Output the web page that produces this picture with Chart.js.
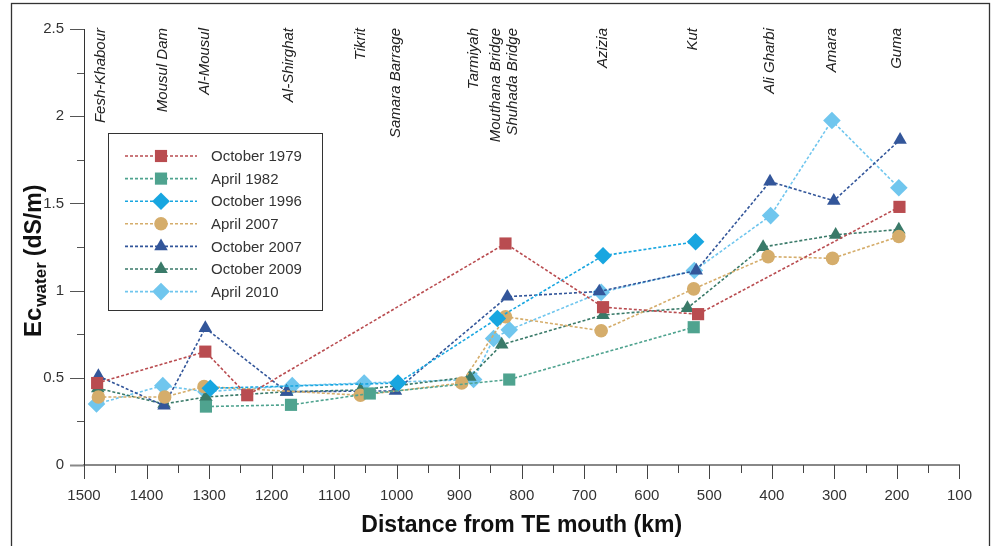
<!DOCTYPE html>
<html><head><meta charset="utf-8">
<script src="https://cdn.jsdelivr.net/npm/chart.js@4.4.1/dist/chart.umd.min.js"></script>
<style>html,body{margin:0;padding:0;background:#fff;}canvas{display:block;}</style>
</head><body>
<canvas id="c" width="994" height="546"></canvas>
<script>
// ---- data ----
const xTicks = [1500,1400,1300,1200,1100,1000,900,800,700,600,500,400,300,200,100];
const yTicks = [0,0.5,1,1.5,2,2.5];
const stationNames = ["Fesh-Khabour","Mousul Dam","Al-Mousul","Al-Shirghat","Tikrit","Samara Barrage","Tarmiyah","Mouthana Bridge","Shuhada Bridge","Azizia","Kut","Ali Gharbi","Amara","Guma"];
const stationKm = [1473,1374,1306,1172,1057,1002,877,841,814,670,527,404,304,200];

const seriesNames = ["October 1979","April 1982","October 1996","April 2007","October 2007","October 2009","April 2010"];

const oct1979Km = [1479,1306,1239,826,670,518,196];
const oct1979Ec = [0.47,0.65,0.40,1.27,0.905,0.865,1.48];

const apr1982Km = [1305,1169,1043,820,525];
const apr1982Ec = [0.335,0.345,0.41,0.49,0.79];

const oct1996Km = [1298,998,839,670,522];
const oct1996Ec = [0.44,0.47,0.84,1.20,1.28];

const apr2007Km = [1477,1371,1308,1058,896,826,673,525,406,303,197];
const apr2007Ec = [0.39,0.39,0.45,0.40,0.47,0.85,0.77,1.01,1.195,1.185,1.31];

const oct2007Km = [1477,1372,1306,1176,1002,823,676,521,403,301,195];
const oct2007Ec = [0.51,0.34,0.785,0.42,0.425,0.965,0.995,1.115,1.625,1.515,1.865];

const oct2009Km = [1478,1372,1305,1176,1058,883,832,670,535,414,298,197];
const oct2009Ec = [0.44,0.35,0.39,0.42,0.43,0.505,0.69,0.86,0.90,1.25,1.32,1.35];

const apr2010Km = [1480,1374,1305,1167,1052,877,845,820,673,524,402,304,197];
const apr2010Ec = [0.35,0.455,0.42,0.455,0.47,0.49,0.725,0.775,0.99,1.115,1.43,1.975,1.59];

// ---- styles ----
const colors = ["#B94C50","#4FA38F","#18A6E0","#D5AD6B","#33569A","#3A7A69","#70C6EE"];
const styles = ["rect","rect","rectRot","circle","triangle","triangle","rectRot"];
const radii = [8.6,8.6,8.8,6.8,7.8,7.8,8.8];

const kmSets = [oct1979Km,apr1982Km,oct1996Km,apr2007Km,oct2007Km,oct2009Km,apr2010Km];
const ecSets = [oct1979Ec,apr1982Ec,oct1996Ec,apr2007Ec,oct2007Ec,oct2009Ec,apr2010Ec];

const FONT = '"Liberation Sans", Arial, Helvetica, sans-serif';

const datasets = seriesNames.map((name,i)=>({
  label: name,
  data: kmSets[i].map((k,j)=>({x:k,y:ecSets[i][j]})),
  borderColor: colors[i],
  backgroundColor: colors[i],
  pointBackgroundColor: colors[i],
  pointBorderWidth: 0,
  pointStyle: styles[i],
  pointRadius: radii[i],
  borderWidth: 1.6,
  borderDash: [3,2],
  tension: 0,
  fill: false
}));

function drawMarker(ctx, style, r, x, y){
  ctx.beginPath();
  if(style==='rect'){
    const s = Math.SQRT1_2*r;
    ctx.rect(x-s,y-s,2*s,2*s);
  } else if(style==='rectRot'){
    ctx.moveTo(x,y-r);ctx.lineTo(x+r,y);ctx.lineTo(x,y+r);ctx.lineTo(x-r,y);ctx.closePath();
  } else if(style==='circle'){
    ctx.arc(x,y,r,0,Math.PI*2);
  } else if(style==='triangle'){
    let a=0;
    for(let k=0;k<3;k++){ const px=x+Math.sin(a)*r, py=y-Math.cos(a)*r; if(k===0)ctx.moveTo(px,py); else ctx.lineTo(px,py); a+=2*Math.PI/3; }
    ctx.closePath();
  }
  ctx.fill();
}

const decor = {
  id:'decor',
  beforeDraw(chart){
    const ctx = chart.ctx;
    ctx.save();
    ctx.fillStyle='#fff';
    ctx.fillRect(0,0,chart.width,chart.height);
    ctx.restore();
  },
  afterDraw(chart){
    const ctx = chart.ctx;
    const xs = chart.scales.x, ys = chart.scales.y;
    const ca = chart.chartArea;
    ctx.save();
    // frame
    ctx.strokeStyle='#333'; ctx.lineWidth=1.3;
    ctx.strokeRect(11.5,3.5,978,620);
    // x ticks (major + minor)
    ctx.strokeStyle='#444'; ctx.lineWidth=1;
    for(let v=1500; v>=100; v-=50){
      const px = Math.round(xs.getPixelForValue(v))+0.5;
      const len = (v%100===0)?14:8;
      ctx.beginPath(); ctx.moveTo(px,ca.bottom); ctx.lineTo(px,ca.bottom+len); ctx.stroke();
    }
    // y ticks
    for(let v=0; v<=2.5001; v+=0.25){
      const py = Math.round(ys.getPixelForValue(v))+0.5;
      const major = Math.abs(v*2-Math.round(v*2))<1e-6;
      ctx.strokeStyle = v===0 ? '#888' : '#555';
      ctx.lineWidth = v===0 ? 2 : 1;
      ctx.beginPath(); ctx.moveTo(ca.left-(major?14:7),py); ctx.lineTo(ca.left,py); ctx.stroke();
    }
    // station labels
    ctx.fillStyle='#222';
    ctx.font='italic 15px '+FONT;
    ctx.textAlign='right'; ctx.textBaseline='middle';
    stationNames.forEach((n,i)=>{
      const px = xs.getPixelForValue(stationKm[i]);
      ctx.save(); ctx.translate(px, 28); ctx.rotate(-Math.PI/2);
      ctx.fillText(n,0,0); ctx.restore();
    });
    // y title
    ctx.save();
    ctx.translate(41,337); ctx.rotate(-Math.PI/2);
    ctx.fillStyle='#111'; ctx.textAlign='left'; ctx.textBaseline='alphabetic';
    ctx.font='bold 24px '+FONT; ctx.fillText('Ec',0,0);
    let w = ctx.measureText('Ec').width + 1;
    ctx.font='bold 17px '+FONT; ctx.fillText('water',w,5);
    w += ctx.measureText('water').width + 6;
    ctx.font='bold 23px '+FONT; ctx.fillText('(dS/m)',w,0);
    ctx.restore();
    // x title
    ctx.fillStyle='#111'; ctx.textAlign='center'; ctx.textBaseline='alphabetic';
    ctx.font='bold 23px '+FONT;
    ctx.fillText('Distance from TE mouth (km)', (ca.left+ca.right)/2, 532);
    // legend
    const lx=108.5, ly=133.5, lw=214, lh=177;
    ctx.fillStyle='#fff'; ctx.fillRect(lx,ly,lw,lh);
    ctx.strokeStyle='#333'; ctx.lineWidth=1; ctx.strokeRect(lx,ly,lw,lh);
    ctx.font='15px '+FONT; ctx.textAlign='left'; ctx.textBaseline='middle';
    chart.data.datasets.forEach((d,i)=>{
      const y = 156 + i*22.6;
      ctx.strokeStyle=d.borderColor; ctx.lineWidth=1.6; ctx.setLineDash([3,2]);
      ctx.beginPath(); ctx.moveTo(125,y); ctx.lineTo(197,y); ctx.stroke();
      ctx.setLineDash([]);
      ctx.fillStyle=d.pointBackgroundColor;
      drawMarker(ctx,d.pointStyle,d.pointRadius,161,y);
      ctx.fillStyle='#333';
      ctx.fillText(d.label,211,y+1);
    });
    ctx.restore();
  }
};

new Chart(document.getElementById('c'),{
  type:'line',
  data:{datasets},
  plugins:[decor],
  options:{
    responsive:false,
    animation:false,
    devicePixelRatio:1,
    clip:false,
    layout:{padding:{left:0,top:27,right:31,bottom:0}},
    plugins:{legend:{display:false},tooltip:{enabled:false}},
    scales:{
      x:{
        type:'linear', reverse:true, min:100, max:1500,
        afterFit(s){ s.height = 81; },
        afterBuildTicks(s){ s.ticks = xTicks.map(v=>({value:v})); },
        grid:{display:false, drawTicks:false},
        border:{display:true,color:'#888',width:2},
        ticks:{padding:22, color:'#333', font:{family:FONT,size:15}, maxRotation:0, autoSkip:false,
          callback:(v)=>String(v)}
      },
      y:{
        type:'linear', min:0, max:2.5,
        afterFit(s){ s.width = 84; },
        afterBuildTicks(s){ s.ticks = yTicks.map(v=>({value:v})); },
        grid:{display:false, drawTicks:false},
        border:{display:true,color:'#333',width:1},
        ticks:{padding:20, color:'#333', font:{family:FONT,size:15},
          callback:(v)=>String(v)}
      }
    }
  }
});
</script>
</body></html>
